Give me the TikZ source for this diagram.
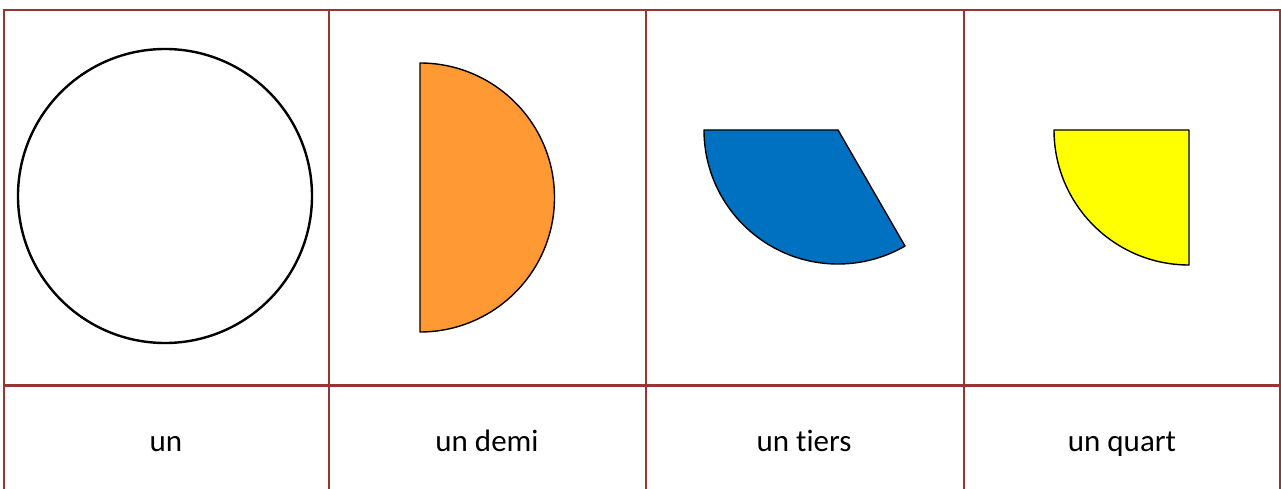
\documentclass[tikz,border=0pt]{standalone}
\usepackage{fontspec}
\setmainfont[Ligatures=NoCommon]{Carlito}
\definecolor{gridred}{HTML}{943634}
\definecolor{demiorange}{HTML}{FF9933}
\definecolor{tiersblue}{HTML}{0070C0}
\definecolor{quartyellow}{HTML}{FFFF00}
\begin{document}
\begin{tikzpicture}[
  x=1pt,y=-1pt,
  grid/.style={draw=gridred,line width=2.5pt},
  part/.style={draw=black,line width=1.4pt,line join=round},
  label/.style={anchor=base,inner sep=0pt,font=\fontsize{31}{37}\selectfont}
]
\useasboundingbox (0,0) rectangle (1281,489);
% table lines
\foreach \x in {4,329,646,964,1280}
  \draw[grid] (\x,10) -- (\x,489);
\foreach \y in {10,385.7}
  \draw[grid] (3,\y) -- (1281,\y);
% shapes
\coordinate (un) at (165,196);
\coordinate (demi) at (420,197.5);
\coordinate (tiers) at (838,130);
\coordinate (quart) at (1189,130);
\draw[line width=2.4pt] (un) circle[radius=147];
\draw[part,fill=demiorange] (demi) ++(-90:134.5) arc[start angle=-90,end angle=90,radius=134.5] -- cycle;
\draw[part,fill=tiersblue] (tiers) -- ++(180:134) arc[start angle=180,end angle=60,radius=134] -- cycle;
\draw[part,fill=quartyellow] (quart) -- ++(180:135) arc[start angle=180,end angle=90,radius=135] -- cycle;
% labels
\node[label] (unlabel) at (166,451.7) {un};
\node[label] (demilabel) at (487,451.7) {un demi};
\node[label] (tierslabel) at (804,451.7) {un tiers};
\node[label] (quartlabel) at (1122,451.7) {un quart};
\end{tikzpicture}
\end{document}
